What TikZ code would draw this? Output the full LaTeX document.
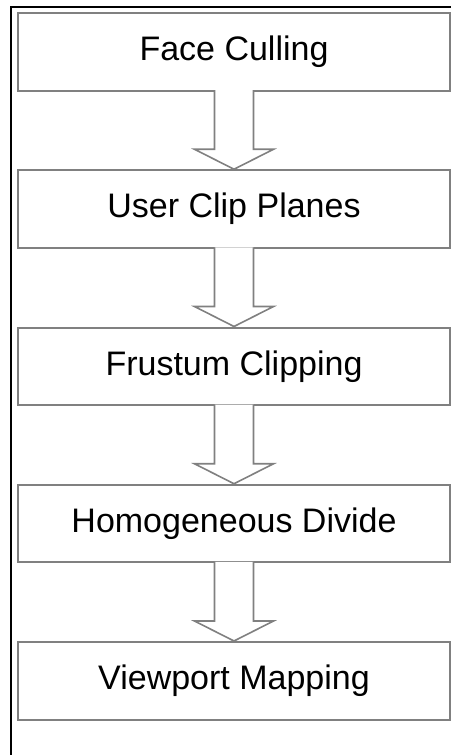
\documentclass[tikz,border=0pt]{standalone}
\usepackage{fontspec}
\setmainfont{Liberation Sans}
\usetikzlibrary{calc}
\definecolor{linegray}{HTML}{808080}

\tikzset{
  stage/.style={draw=linegray, line width=2pt, fill=white,
    minimum width=432pt, minimum height=77.5pt, inner sep=0pt,
    font=\fontsize{34}{40}\selectfont},
  flowline/.style={draw=linegray, line width=1.6pt, fill=white, line join=miter},
  frameline/.style={draw=black, line width=2.2pt}
}

\begin{document}
\begin{tikzpicture}[x=1pt, y=-1pt]

\newcommand\X{234};
\newcommand\Y{157.25};

\useasboundingbox (0,0) rectangle (451,755); %% page

\draw[frameline](11,755) -- (11,7) -- (451,7);

\node[stage] (fc)  at (\X, 51.75 + 0*\Y) {Face Culling};
\node[stage] (ucp) at (\X, 51.75 + 1*\Y) {User Clip Planes};
\node[stage] (fcl) at (\X, 51.75 + 2*\Y) {Frustum Clipping};
\node[stage] (hd)  at (\X, 51.75 + 3*\Y) {Homogeneous Divide};
\node[stage] (vm)  at (\X, 51.75 + 4*\Y) {Viewport Mapping};

%% hollow arrows between stages
\newcommand\stagearrow[2]{
\filldraw[flowline]
($(#1.south)+(-19.5,-1.5)$) -- ($(#2.north)+(-19.5,-20)$)
-- ($(#2.north)+(-39.5,-20)$) -- (#2.north)
-- ($(#2.north)+(39.5,-20)$) -- ($(#2.north)+(19.5,-20)$)
-- ($(#1.south)+(19.5,-1.5)$);
}
\stagearrow{fc}{ucp}
\stagearrow{ucp}{fcl}
\stagearrow{fcl}{hd}
\stagearrow{hd}{vm}

\end{tikzpicture}
\end{document}
